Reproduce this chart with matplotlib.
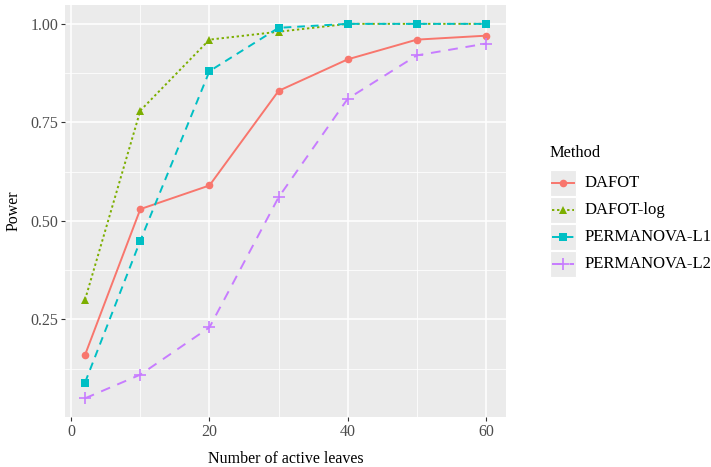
import matplotlib
matplotlib.use("Agg")
import matplotlib.pyplot as plt
from matplotlib.lines import Line2D
from matplotlib.patches import Rectangle
from matplotlib.ticker import MultipleLocator

plt.rcParams['font.family'] = ['Liberation Serif', 'DejaVu Serif']

leaves = [2, 10, 20, 30, 40, 50, 60]
methods = ['DAFOT', 'DAFOT-log', 'PERMANOVA-L1', 'PERMANOVA-L2']
dafot = [0.16, 0.53, 0.59, 0.83, 0.91, 0.96, 0.97]
dafot_log = [0.30, 0.78, 0.96, 0.98, 1.00, 1.00, 1.00]
perm_l1 = [0.09, 0.45, 0.88, 0.99, 1.00, 1.00, 1.00]
perm_l2 = [0.05, 0.11, 0.23, 0.56, 0.81, 0.92, 0.95]
series = [dafot, dafot_log, perm_l1, perm_l2]

colors = ['#F8766D', '#7CAE00', '#00BFC4', '#C77CFF']
markers = ['o', '^', 's', '+']
styles = ['-', (0, (1.2, 1.4)), (0, (4, 3)), (0, (5, 4))]

W, H = 711, 467
fig = plt.figure(figsize=(7.11, 4.67), dpi=100)
ax = fig.add_axes([0.0914, 0.107, 0.6203, 0.882])
ax.set_facecolor('#EBEBEB')


def msize(m):
    return 8 if m == '+' else 5.5


for vals, name, c, m, ls in zip(series, methods, colors, markers, styles):
    ax.plot(leaves, vals, color=c, linestyle=ls, linewidth=1.4,
            marker=m, markersize=msize(m), markeredgewidth=1.2 if m == '+' else 0,
            label=name)

ax.set_xlim(-0.9, 62.9)
ax.set_ylim(0.0025, 1.0475)
ax.set_xticks([0, 20, 40, 60])
ax.set_yticks([0.25, 0.50, 0.75, 1.00])
ax.set_yticklabels(['0.25', '0.50', '0.75', '1.00'])
ax.xaxis.set_minor_locator(MultipleLocator(10))
ax.set_yticks([0.125, 0.375, 0.625, 0.875], minor=True)

ax.grid(which='major', color='white', linewidth=1.1)
ax.grid(which='minor', color='white', linewidth=0.55)
ax.set_axisbelow(True)
for s in ax.spines.values():
    s.set_visible(False)
ax.tick_params(which='major', length=3, color='#333333', labelsize=11.5, labelcolor='#4D4D4D', pad=2)
ax.tick_params(which='minor', length=0)

ax.set_xlabel('Number of active leaves', fontsize=11.5, labelpad=8)
ax.set_ylabel('Power', fontsize=11.5, labelpad=6)

# legend drawn ggplot-style with grey key boxes
fig.text(550 / W, 1 - 153 / H, 'Method', fontsize=11.8, va='center', ha='left')
for i, (name, c, m, ls) in enumerate(zip(methods, colors, markers, styles)):
    yc = 183 + 27 * i
    fig.patches.append(Rectangle((550 / W, 1 - (yc + 13) / H), 26 / W, 26 / H,
                                 transform=fig.transFigure, facecolor='#EBEBEB',
                                 edgecolor='white', linewidth=0.8))
    fig.lines.append(Line2D([552 / W, 574 / W], [1 - yc / H] * 2, transform=fig.transFigure,
                            color=c, linestyle=ls, linewidth=1.4))
    fig.lines.append(Line2D([563 / W], [1 - yc / H], transform=fig.transFigure,
                            color=c, marker=m, markersize=msize(m),
                            markeredgewidth=1.2 if m == '+' else 0, linestyle='none'))
    fig.text(585 / W, 1 - yc / H, name, fontsize=12, va='center', ha='left')

fig.savefig('out.png', dpi=100)
